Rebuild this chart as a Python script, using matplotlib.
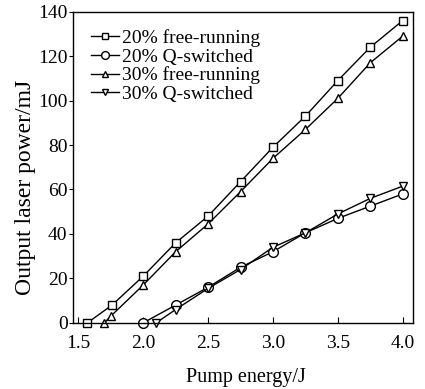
import matplotlib
matplotlib.use("Agg")
import matplotlib.pyplot as plt

plt.rcParams['font.family'] = ['Liberation Serif', 'DejaVu Serif']

# 20% free-running
x_fr20 = [1.57, 1.76, 2.0, 2.25, 2.5, 2.75, 3.0, 3.25, 3.5, 3.75, 4.0]
y_fr20 = [0, 8, 21, 36, 48, 63.5, 79, 93, 109, 124, 136]
# 20% Q-switched
x_qs20 = [2.0, 2.25, 2.5, 2.75, 3.0, 3.25, 3.5, 3.75, 4.0]
y_qs20 = [0, 8, 16, 25, 32, 40.5, 47, 52.5, 58]
# 30% free-running
x_fr30 = [1.70, 1.75, 2.0, 2.25, 2.5, 2.75, 3.0, 3.25, 3.5, 3.75, 4.0]
y_fr30 = [0, 3, 17, 32, 44.5, 59, 74, 87, 101, 117, 129]
# 30% Q-switched
x_qs30 = [2.1, 2.25, 2.5, 2.75, 3.0, 3.25, 3.5, 3.75, 4.0]
y_qs30 = [0, 6, 15.5, 24, 34, 40.5, 49, 56, 61.5]

labels = ['20% free-running', '20% Q-switched', '30% free-running', '30% Q-switched']
xticks = [1.5, 2.0, 2.5, 3.0, 3.5, 4.0]
yticks = [0, 20, 40, 60, 80, 100, 120, 140]

fig = plt.figure(figsize=(4.25, 3.89), dpi=100)
ax = fig.add_axes([0.172, 0.170, 0.800, 0.800])

style = dict(color='black', lw=1.0, markerfacecolor='white',
             markeredgecolor='black', markeredgewidth=1.0, clip_on=False)
ax.plot(x_fr20, y_fr20, marker='s', ms=6, label=labels[0], **style)
ax.plot(x_qs20, y_qs20, marker='o', ms=7, label=labels[1], **style)
ax.plot(x_fr30, y_fr30, marker='^', ms=6, label=labels[2], **style)
ax.plot(x_qs30, y_qs30, marker='v', ms=6, label=labels[3], **style)

ax.set_xlim(1.46, 4.08)
ax.set_ylim(0, 140)
ax.set_xticks(xticks)
ax.set_yticks(yticks)
ax.set_xticklabels(['%.1f' % t for t in xticks])
ax.tick_params(axis='x', direction='in', length=4, labelsize=14, pad=9)
ax.tick_params(axis='y', direction='out', length=3, labelsize=14, pad=1)
for s in ax.spines.values():
    s.set_linewidth(1.0)

ax.set_xlabel('Pump energy/J', fontsize=14.5)
ax.xaxis.label.set_va('center')
ax.xaxis.set_label_coords(0.509, -0.177)
ax.set_ylabel('Output laser power/mJ', fontsize=17)
ax.yaxis.label.set_va('center')
ax.yaxis.set_label_coords(-0.141, 0.436)

ax.legend(loc='upper left', frameon=False, fontsize=14, handlelength=1.45,
          handletextpad=0.15, labelspacing=0.05, borderaxespad=0.5,
          markerscale=0.8)

fig.savefig('out.png', dpi=100)
